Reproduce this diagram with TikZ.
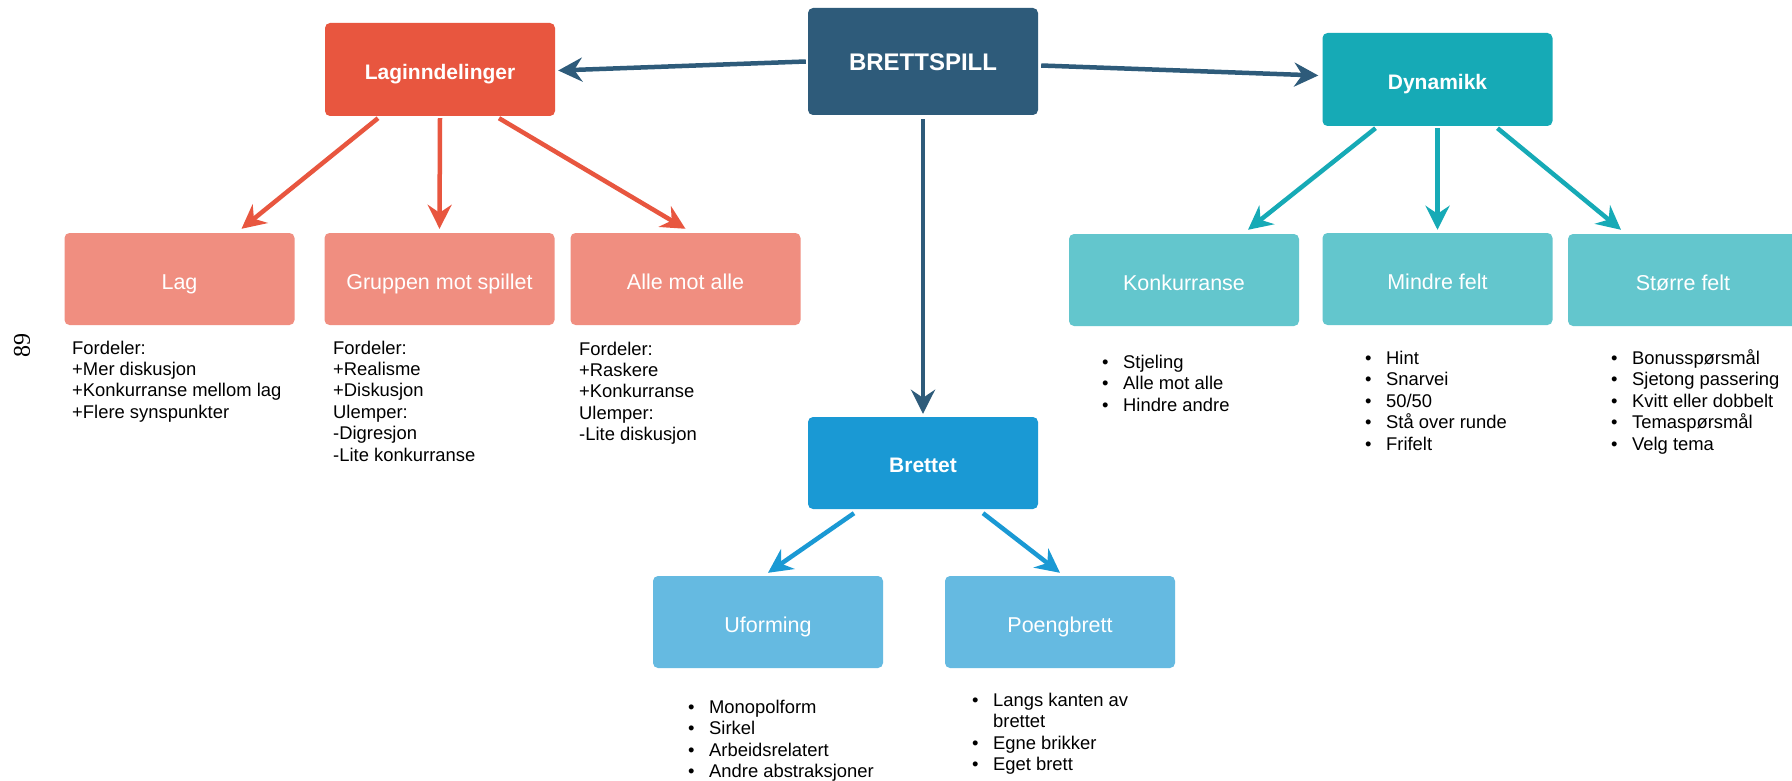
\documentclass[tikz,border=0pt]{standalone}
\usepackage{fontspec}
\setmainfont{Liberation Sans}
\newfontfamily\serifpn{Liberation Serif}
\usetikzlibrary{arrows.meta,calc}
\definecolor{cdark}{HTML}{2E5B7A}
\definecolor{cred}{HTML}{E8563F}
\definecolor{csalmon}{HTML}{F08E80}
\definecolor{cteal}{HTML}{16AAB6}
\definecolor{ctealL}{HTML}{63C6CD}
\definecolor{cblue}{HTML}{1A99D4}
\definecolor{cblueL}{HTML}{65BAE1}
\tikzset{
  box/.style={rounded corners=5pt, minimum width=230pt, minimum height=92pt, inner sep=0pt, text=white, align=center, text depth=0pt},
  headbox/.style={box, font=\bfseries\fontsize{21}{25}\selectfont, text height=19.5pt},
  subbox/.style={box, font=\fontsize{21.5}{25}\selectfont, text height=20pt},
  arr/.style={line width=4.5pt, -{Stealth[length=24pt,width=24pt,inset=8pt]}},
  body/.style={font=\fontsize{18.4}{21.4}\selectfont, inner sep=0pt, anchor=base west, text=black},
}
\begin{document}
\begin{tikzpicture}[x=1pt,y=-1pt]
\useasboundingbox[fill=white] (0,0) rectangle (1792,781);

% main nodes
\node[box, fill=cdark, minimum height=107pt, font=\bfseries\fontsize{24}{28}\selectfont, text height=18.2pt] (B) at (923,61.5) {BRETTSPILL};
\node[headbox, fill=cred, minimum height=93pt] (L) at (440,69.5) {Laginndelinger};
\node[headbox, fill=cteal, minimum height=93pt] (D) at (1437.5,79.5) {Dynamikk};
\node[headbox, fill=cblue] (Br) at (923,463) {Brettet};

% sub nodes
\node[subbox, fill=csalmon] (Lag) at (179.5,279) {Lag};
\node[subbox, fill=csalmon] (G) at (439.5,279) {Gruppen mot spillet};
\node[subbox, fill=csalmon] (A) at (685.5,279) {Alle mot alle};
\node[subbox, fill=ctealL] (K) at (1184,280) {Konkurranse};
\node[subbox, fill=ctealL] (M) at (1437.5,279) {Mindre felt};
\node[subbox, fill=ctealL] (S) at (1683,280) {Større felt};
\node[subbox, fill=cblueL] (U) at (768,622) {Uforming};
\node[subbox, fill=cblueL] (P) at (1060,622) {Poengbrett};

% arrows
\draw[arr, cdark] ($(B.west)+(-2,0)$) -- ($(L.east)+(3,1)$);
\draw[arr, cdark] ($(B.east)+(3,4)$) -- ($(D.west)+(-4,-4)$);
\draw[arr, cdark] ($(B.south)+(0,4)$) -- ($(Br.north)+(0,-3)$);

\draw[arr, cred] ($(L.south)+(-62,2)$) -- ($(Lag.north)+(62,-4)$);
\draw[arr, cred] ($(L.south)+(0,2)$) -- ($(G.north)+(0,-4)$);
\draw[arr, cred] ($(L.south)+(59,2)$) -- ($(A.north)+(0,-4)$);

\draw[arr, cteal] ($(D.south)+(-62,2)$) -- ($(K.north)+(64,-4)$);
\draw[arr, cteal] ($(D.south)+(0,2)$) -- ($(M.north)+(0,-3)$);
\draw[arr, cteal] ($(D.south)+(60,2)$) -- ($(S.north)+(-62,-4)$);

\draw[arr, cblue] ($(Br.south)+(-69,4)$) -- ($(U.north)+(0,-3)$);
\draw[arr, cblue] ($(Br.south)+(60,4)$) -- ($(P.north)+(0,-3)$);

% texts
\node[body] (tLag) at (72,354) {\begin{tabular}[t]{@{}l@{}}Fordeler:\\+Mer diskusjon\\+Konkurranse mellom lag\\+Flere synspunkter\end{tabular}};
\node[body] (tG) at (333,354) {\begin{tabular}[t]{@{}l@{}}Fordeler:\\+Realisme\\+Diskusjon\\Ulemper:\\-Digresjon\\-Lite konkurranse\end{tabular}};
\node[body] (tA) at (579,355) {\begin{tabular}[t]{@{}l@{}}Fordeler:\\+Raskere\\+Konkurranse\\Ulemper:\\-Lite diskusjon\end{tabular}};

\node[body] (tK) at (1102,368.5) {\begin{tabular}[t]{@{}l@{\hspace{14.5pt}}l@{}}•&Stjeling\\•&Alle mot alle\\•&Hindre andre\end{tabular}};
\node[body] (tM) at (1365,364.5) {\begin{tabular}[t]{@{}l@{\hspace{14.5pt}}l@{}}•&Hint\\•&Snarvei\\•&50/50\\•&Stå over runde\\•&Frifelt\end{tabular}};
\node[body] (tS) at (1611,364.5) {\begin{tabular}[t]{@{}l@{\hspace{14.5pt}}l@{}}•&Bonusspørsmål\\•&Sjetong passering\\•&Kvitt eller dobbelt\\•&Temaspørsmål\\•&Velg tema\end{tabular}};
\node[body] (tU) at (688,713.5) {\begin{tabular}[t]{@{}l@{\hspace{14.5pt}}l@{}}•&Monopolform\\•&Sirkel\\•&Arbeidsrelatert\\•&Andre abstraksjoner\end{tabular}};
\node[body] (tP) at (972,706.5) {\begin{tabular}[t]{@{}l@{\hspace{14.5pt}}l@{}}•&Langs kanten av\\&brettet\\•&Egne brikker\\•&Eget brett\end{tabular}};

\node[font=\serifpn\fontsize{24}{24}\selectfont, rotate=90, inner sep=0pt] (pn) at (22,345) {89};
\end{tikzpicture}
\end{document}
